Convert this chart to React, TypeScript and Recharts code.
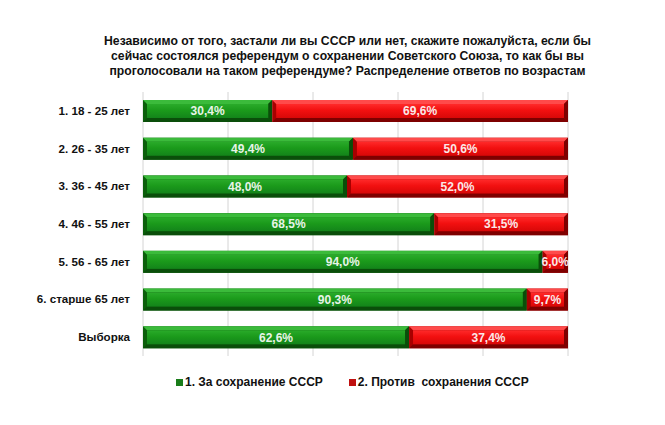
import { BarChart, Bar, XAxis, YAxis, CartesianGrid, LabelList } from "recharts";

const groups = ["1. 18 - 25 лет", "2. 26 - 35 лет", "3. 36 - 45 лет", "4. 46 - 55 лет", "5. 56 - 65 лет", "6. старше  65 лет", "Выборка"];
const forUssr = [30.4, 49.4, 48.0, 68.5, 94.0, 90.3, 62.6];
const againstUssr = [69.6, 50.6, 52.0, 31.5, 6.0, 9.7, 37.4];
const seriesNames = ["1. За сохранение СССР", "2. Против  сохранения СССР"];
const gridTicks = [0, 20, 40, 60, 80, 100];

const data = groups.map((g, i) => ({ group: g, forUssr: forUssr[i], againstUssr: againstUssr[i] }));

const FONT = "Arial, 'Liberation Sans', sans-serif";

const palette = {
  green: { edge: "#0b5f0b", face: "#1c961c", hi: "#3bbb3b", dark: "#0a4e0a" },
  red: { edge: "#a80000", face: "#ee0e0e", hi: "#ff4a4a", dark: "#7e0000" },
};

const pct = (v: any) => `${Number(v).toFixed(1).replace(".", ",")}%`;

// bevelled 3D-looking bar segment
function BevelBar(props: any) {
  const { x, y, width, height, tone } = props;
  if (width <= 0) return null;
  const c = palette[tone as "green" | "red"];
  const b = Math.min(4, width / 3);
  return (
    <g>
      <rect x={x} y={y} width={width} height={height} fill={c.edge} />
      <polygon points={`${x},${y} ${x + width},${y} ${x + width - b},${y + b} ${x + b},${y + b}`} fill={c.hi} />
      <polygon points={`${x + width},${y} ${x + width},${y + height} ${x + width - b},${y + height - b} ${x + width - b},${y + b}`} fill={c.dark} />
      <polygon points={`${x},${y + height} ${x + width},${y + height} ${x + width - b},${y + height - b} ${x + b},${y + height - b}`} fill={c.dark} />
      <rect x={x + b} y={y + b} width={Math.max(0, width - 2 * b)} height={height - 2 * b} fill={`url(#face-${tone})`} />
    </g>
  );
}

function GroupTick(props: any) {
  const { x, y, payload } = props;
  return (
    <text x={x - 5} y={y} dy={4} textAnchor="end" fontSize={11.6} fontWeight="bold" fill="#111" fontFamily={FONT}>
      {payload.value}
    </text>
  );
}

function LegendBox() {
  const items = [
    { name: seriesNames[0], color: "#1a7d1a" },
    { name: seriesNames[1], color: "#c01010" },
  ];
  return (
    <div style={{ position: "absolute", left: 176, top: 375, display: "flex", gap: 26, fontFamily: FONT, fontSize: 12, fontWeight: "bold", color: "#111", whiteSpace: "pre" }}>
      {items.map((it) => (
        <span key={it.name} style={{ display: "flex", alignItems: "center", gap: 2 }}>
          <span style={{ width: 7, height: 7, background: it.color, display: "inline-block" }} />
          {it.name}
        </span>
      ))}
    </div>
  );
}

export default function App() {
  return (
    <div style={{ position: "absolute", left: 0, top: 0, width: 665, height: 425, background: "#fff" }}>
      <div style={{ position: "absolute", left: 0, top: 34, width: 695, textAlign: "center", fontFamily: FONT, fontSize: 12.2, fontWeight: "bold", lineHeight: "15px", color: "#111" }}>
        Независимо  от того,  застали ли вы СССР или нет, скажите пожалуйста, если бы<br />
        сейчас состоялся  референдум о сохранении Советского  Союза,  то как бы вы<br />
        проголосовали  на таком  референдуме? Распределение ответов  по возрастам
      </div>
      <BarChart width={665} height={425} data={data} layout="vertical" margin={{ top: 92, right: 97, bottom: 69, left: 0 }} barSize={22}>
        <defs>
          <linearGradient id="face-green" x1="0" y1="0" x2="0" y2="1">
            <stop offset="0%" stopColor="#2aab2a" />
            <stop offset="45%" stopColor="#1b9a1b" />
            <stop offset="100%" stopColor="#13841a" />
          </linearGradient>
          <linearGradient id="face-red" x1="0" y1="0" x2="0" y2="1">
            <stop offset="0%" stopColor="#ff2a2a" />
            <stop offset="45%" stopColor="#f21010" />
            <stop offset="100%" stopColor="#d80808" />
          </linearGradient>
        </defs>
        <CartesianGrid horizontal={false} stroke="#d4d4d4" />
        <XAxis type="number" domain={[0, 100]} ticks={gridTicks} hide />
        <YAxis type="category" dataKey="group" width={143} axisLine={false} tickLine={false} tick={<GroupTick />} />
        <Bar dataKey="forUssr" stackId="a" name={seriesNames[0]} fill="#1a7d1a" isAnimationActive={false} shape={(p: any) => <BevelBar {...p} tone="green" />}>
          <LabelList dataKey="forUssr" position="center" formatter={pct} fill="#e8f4e8" fontSize={12} fontWeight="bold" fontFamily={FONT} />
        </Bar>
        <Bar dataKey="againstUssr" stackId="a" name={seriesNames[1]} fill="#c01010" isAnimationActive={false} shape={(p: any) => <BevelBar {...p} tone="red" />}>
          <LabelList dataKey="againstUssr" position="center" formatter={pct} fill="#fbe8e8" fontSize={12} fontWeight="bold" fontFamily={FONT} />
        </Bar>
      </BarChart>
      <LegendBox />
    </div>
  );
}
